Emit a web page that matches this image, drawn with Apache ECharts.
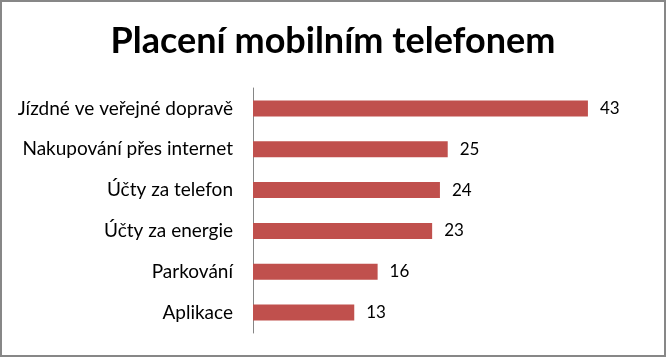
<!DOCTYPE html>
<html><head><meta charset="utf-8">
<script src="https://cdn.jsdelivr.net/npm/echarts@6/dist/echarts.min.js"></script>
<style>html,body{margin:0;padding:0;background:#fff}#c{width:666px;height:357px}</style>
</head><body><div id="c"></div>
<script>
const titleText = "Placení mobilním telefonem";
const categories = ["Jízdné ve veřejné dopravě","Nakupování přes internet","Účty za telefon","Účty za energie","Parkování","Aplikace"];
const values = [43,25,24,23,16,13];

const chart = echarts.init(document.getElementById('c'), null, {renderer:'canvas'});
chart.setOption({
  animation:false,
  backgroundColor:'#ffffff',
  title:{text:titleText,left:'center',top:18,textStyle:{fontFamily:'Lato',fontWeight:'bold',fontSize:36,color:'#000'}},
  graphic:[{type:'rect',shape:{x:1,y:1,width:664,height:355},style:{fill:'none',stroke:'#878787',lineWidth:2},silent:true}],
  grid:{left:253,right:62.5,top:88,bottom:24,containLabel:false},
  xAxis:{type:'value',min:0,max:45,show:false},
  yAxis:{type:'category',inverse:true,data:categories,
    axisLine:{show:true,lineStyle:{color:'#868686',width:1}},
    axisTick:{show:false},
    axisLabel:{margin:20,fontFamily:'Lato',fontSize:19,color:'#000'}},
  series:[{type:'bar',data:values,barCategoryGap:'61%',
    itemStyle:{color:'#C0504D'},
    label:{show:true,position:'right',distance:12,fontFamily:'Lato',fontSize:17,color:'#000'}}]
});
</script></body></html>
